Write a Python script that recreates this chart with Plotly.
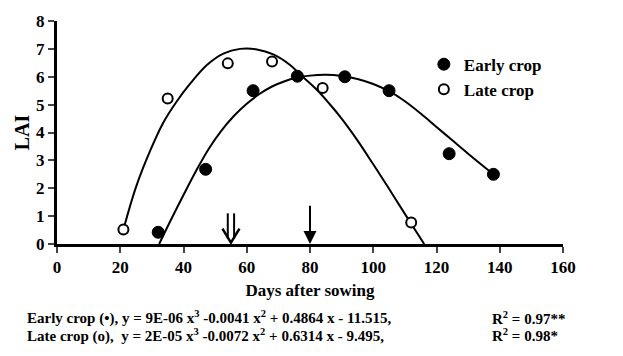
import plotly.graph_objects as go

# ---- data ----
early_days = [32, 47, 62, 76, 91, 105, 124, 138]
early_lai = [0.42, 2.68, 5.5, 6.02, 6.0, 5.5, 3.24, 2.5]
late_days = [21, 35, 54, 68, 84, 112]
late_lai = [0.52, 5.22, 6.48, 6.55, 5.6, 0.77]

# fitted trend curves
early_fit_days = [32.3, 36, 40, 44, 48, 52, 56, 60, 64, 68, 72, 76, 80, 85, 90, 95, 100, 105, 110, 115, 120, 125, 130, 138]
early_fit_lai = [0.0, 0.86, 1.76, 2.63, 3.42, 4.07, 4.6, 5.03, 5.38, 5.65, 5.84, 5.97, 6.04, 6.07, 6.03, 5.92, 5.74, 5.48, 5.12, 4.68, 4.2, 3.72, 3.24, 2.5]
late_fit_days = [21.2, 25, 29.4, 33.6, 37.9, 42.1, 47.4, 52.6, 57.9, 63.2, 68.4, 73.7, 77, 82, 86, 90, 95, 100, 105, 110, 116.1]
late_fit_lai = [0.6, 2.05, 3.33, 4.35, 5.12, 5.75, 6.42, 6.83, 7.0, 6.98, 6.8, 6.42, 6.07, 5.55, 5.05, 4.5, 3.72, 2.86, 1.98, 1.08, 0.0]

x_ticks = [0, 20, 40, 60, 80, 100, 120, 140, 160]
y_ticks = [0, 1, 2, 3, 4, 5, 6, 7, 8]

double_arrow_day = 55
single_arrow_day = 80
double_arrow_top = 1.1
single_arrow_top = 1.43

eq_early = "Early crop (\u2022), y = 9E-06 x<sup>3</sup> -0.0041 x<sup>2</sup> + 0.4864 x - 11.515,"
eq_late = "Late crop (o),  y = 2E-05 x<sup>3</sup> -0.0072 x<sup>2</sup> + 0.6314 x - 9.495,"
r2_early = "R<sup>2</sup> = 0.97**"
r2_late = "R<sup>2</sup> = 0.98*"

FONT = "Liberation Serif, Times New Roman, serif"

fig = go.Figure()

fig.add_trace(go.Scatter(x=early_fit_days, y=early_fit_lai, mode="lines",
                         line=dict(color="black", width=2, shape="spline", smoothing=1.0),
                         showlegend=False, hoverinfo="skip"))
fig.add_trace(go.Scatter(x=late_fit_days, y=late_fit_lai, mode="lines",
                         line=dict(color="black", width=2, shape="spline", smoothing=1.0),
                         showlegend=False, hoverinfo="skip"))
fig.add_trace(go.Scatter(x=early_days, y=early_lai, mode="markers", name="Early crop",
                         marker=dict(symbol="circle", size=12, color="black",
                                     line=dict(color="black", width=1))))
fig.add_trace(go.Scatter(x=late_days, y=late_lai, mode="markers", name="Late crop",
                         marker=dict(symbol="circle", size=10, color="white",
                                     line=dict(color="black", width=2))))

# single arrow
fig.add_annotation(x=single_arrow_day, y=0, ax=single_arrow_day, ay=single_arrow_top,
                   xref="x", yref="y", axref="x", ayref="y", showarrow=True,
                   arrowhead=2, arrowsize=1.3, arrowwidth=2, arrowcolor="black",
                   standoff=0, text="")

# double arrow (two shafts + open chevron head)
d = double_arrow_day
shaft_off = 1.0
head_half = 2.7
head_h = 0.55
fig.add_shape(type="line", xref="x", yref="y", x0=d - shaft_off, x1=d - shaft_off,
              y0=double_arrow_top, y1=0.2, line=dict(color="black", width=2))
fig.add_shape(type="line", xref="x", yref="y", x0=d + shaft_off, x1=d + shaft_off,
              y0=double_arrow_top, y1=0.2, line=dict(color="black", width=2))
fig.add_shape(type="path", xref="x", yref="y",
              path=f"M {d - head_half},{head_h} L {d},0.05 L {d + head_half},{head_h}",
              line=dict(color="black", width=2.5))

# equations below the chart
for txt, xp, yp in [(eq_early, -0.063, -0.33), (eq_late, -0.063, -0.41),
                    (r2_early, 0.856, -0.33), (r2_late, 0.856, -0.41)]:
    fig.add_annotation(text=txt, x=xp, y=yp, xref="paper", yref="paper",
                       xanchor="left", yanchor="middle", showarrow=False,
                       font=dict(family=FONT, size=15, color="black", weight="bold"))

fig.update_layout(
    width=623, height=356,
    margin=dict(l=57, r=60, t=14, b=112),
    paper_bgcolor="white", plot_bgcolor="white",
    font=dict(family=FONT, size=17, color="black", weight="bold"),
    showlegend=True,
    legend=dict(x=0.725, y=0.885, xanchor="left", yanchor="top",
                bgcolor="rgba(0,0,0,0)", borderwidth=0,
                font=dict(family=FONT, size=17, color="black", weight="bold"),
                itemwidth=30, tracegroupgap=6),
)
fig.update_xaxes(range=[0, 160], tickvals=x_ticks, ticks="outside", ticklen=6, tickwidth=2,
                 showline=True, linewidth=3, linecolor="black", showgrid=False, zeroline=False,
                 tickfont=dict(family=FONT, size=17, weight="bold"),
                 title=dict(text="Days after sowing", standoff=8,
                            font=dict(family=FONT, size=17, weight="bold")))
fig.update_yaxes(range=[0, 8], tickvals=y_ticks, ticks="outside", ticklen=6, tickwidth=2,
                 showline=True, linewidth=3, linecolor="black", showgrid=False, zeroline=False,
                 tickfont=dict(family=FONT, size=17, weight="bold"),
                 title=dict(text="LAI", standoff=2,
                            font=dict(family=FONT, size=20, weight="bold")))

fig.write_html("out.html")
